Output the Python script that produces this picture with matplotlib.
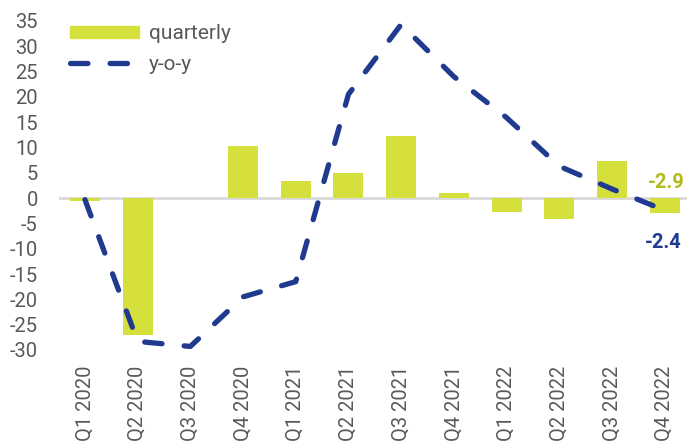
import matplotlib
matplotlib.use("Agg")
import matplotlib.pyplot as plt
from matplotlib.lines import Line2D
from matplotlib.patches import Patch
import numpy as np

plt.rcParams['font.family'] = ['Roboto', 'DejaVu Sans']

categories = ["Q1 2020", "Q2 2020", "Q3 2020", "Q4 2020", "Q1 2021", "Q2 2021",
              "Q3 2021", "Q4 2021", "Q1 2022", "Q2 2022", "Q3 2022", "Q4 2022"]
quarterly = [-0.5, -27.0, 0.0, 10.2, 3.4, 4.9, 12.2, 1.0, -2.7, -4.1, 7.3, -2.9]
yoy = [-0.3, -28.3, -29.3, -19.5, -16.5, 20.5, 34.3, 24.0, 15.9, 6.3, 1.8, -2.4]
yticks = list(range(-30, 40, 5))

bar_color = "#d6e03d"
line_color = "#1f3a8f"
label_bar_color = "#b3ba1c"
text_color = "#595959"

fig = plt.figure(figsize=(6.87, 4.45), dpi=100)
ax = fig.add_axes([0.0853, 0.2135, 0.9205, 0.7395])
x = np.arange(len(categories))
ax.bar(x, quarterly, width=0.57, color=bar_color, zorder=2)
ax.axhline(0, color="#d9d9d9", lw=2, zorder=1)
ax.plot(x, yoy, color=line_color, lw=3.8, dashes=(3.3, 4.2),
        dash_capstyle="round", solid_capstyle="round", zorder=3)

ax.set_xlim(-0.5, len(categories) - 0.5)
ax.set_ylim(-30, 35)
ax.set_yticks(yticks)
ax.set_yticklabels([str(v) for v in yticks])
ax.set_xticks(x)
ax.set_xticklabels(categories, rotation=90)
ax.tick_params(axis='both', length=0, labelsize=14.5, colors=text_color)
ax.tick_params(axis='y', pad=15)
ax.tick_params(axis='x', pad=11)
for s in ax.spines.values():
    s.set_visible(False)

ax.annotate(f"{quarterly[-1]:.1f}", xy=(x[-1], quarterly[-1]), xytext=(1, 22),
            textcoords="offset points", ha="center", va="center",
            fontsize=14.5, fontweight="bold", color=label_bar_color)
ax.annotate(f"{yoy[-1]:.1f}", xy=(x[-1], yoy[-1]), xytext=(-1, -23),
            textcoords="offset points", ha="center", va="center",
            fontsize=14.5, fontweight="bold", color=line_color)

handles = [Patch(color=bar_color),
           Line2D([0], [0], color=line_color, lw=3.8, dashes=(3.3, 4.2),
                  dash_capstyle="round")]
leg = ax.legend(handles, ["quarterly", "y-o-y"], loc="upper left",
                bbox_to_anchor=(-0.012, 1.047), frameon=False, fontsize=15,
                handlelength=3.3, handleheight=0.55, handletextpad=0.5,
                labelspacing=0.55)
for t in leg.get_texts():
    t.set_color(text_color)

fig.savefig("out.png", dpi=100)
